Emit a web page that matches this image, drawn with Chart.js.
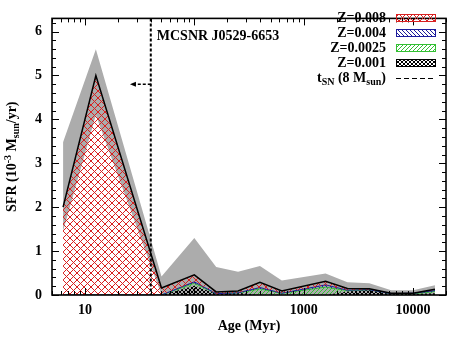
<!DOCTYPE html>
<html><head><meta charset="utf-8">
<script src="https://cdn.jsdelivr.net/npm/chart.js@4.4.1/dist/chart.umd.min.js"></script>
<style>html,body{margin:0;padding:0;background:#fff}#wrap{width:453px;height:340px;position:relative}canvas{display:block}</style>
</head><body><div id="wrap"><canvas id="c" width="453" height="340" style="width:453px;height:340px"></canvas></div>
<script>
// ---- data ----
const ages      = [6.31, 12.59, 50.12, 100, 158.5, 251.2, 398.1, 631, 1585, 2512, 3981, 6310, 10000, 15849];
const sfrZ008   = [2.00, 5.00, 0.16, 0.16, 0.04, 0.04, 0.12, 0.05, 0.08, 0.04, 0.02, 0.01, 0.00, 0.03];
const sfrZ004   = [0, 0, 0, 0.03, 0, 0, 0.03, 0, 0.05, 0.01, 0, 0, 0.01, 0.02];
const sfrZ0025  = [0, 0, 0, 0.06, 0, 0, 0.14, 0.04, 0.18, 0.02, 0, 0, 0, 0.04];
const sfrZ001   = [0, 0, 0, 0.21, 0.03, 0.05, 0, 0, 0, 0.08, 0.12, 0.03, 0.03, 0.04];
const sfrUpper  = [3.48, 5.60, 0.42, 1.30, 0.64, 0.53, 0.66, 0.33, 0.49, 0.29, 0.27, 0.11, 0.11, 0.22];
const sfrLower  = [1.45, 4.10, 0, 0, 0, 0, 0, 0, 0, 0, 0, 0, 0, 0];
const xTickLabels = [10, 100, 1000, 10000];
const yTickLabels = [0, 1, 2, 3, 4, 5, 6];
const tSN = 40;
const arrowTip = 25.8;
const arrowLevel = 4.8;
const snrName = 'MCSNR J0529-6653';
const legendLabels = ['Z=0.008', 'Z=0.004', 'Z=0.0025', 'Z=0.001'];

// ---- styling ----
const FONT = 'Liberation Serif, Times New Roman, serif';
const FS = 14;
Chart.defaults.font.family = FONT;
Chart.defaults.font.size = FS;
Chart.defaults.font.weight = 'bold';
Chart.defaults.color = '#000';

const canvas = document.getElementById('c');
const mainCtx = canvas.getContext('2d');
function makePattern(color, size, dirs, lw) {
  const c = document.createElement('canvas');
  c.width = size; c.height = size;
  const g = c.getContext('2d');
  g.strokeStyle = color; g.lineWidth = lw;
  g.beginPath();
  for (const k of [-size, 0, size]) {
    if (dirs.includes('\\')) { g.moveTo(k, 0); g.lineTo(k + size, size); }
    if (dirs.includes('/')) { g.moveTo(k, size); g.lineTo(k + size, 0); }
  }
  g.stroke();
  return mainCtx.createPattern(c, 'repeat');
}
const colRed = '#d82020', colBlue = '#1c1c9c', colGreen = '#33c033', colBlack = '#000000';
const patRed = makePattern(colRed, 7, '\\/', 1);
const patBlue = makePattern(colBlue, 4, '\\', 1);
const patGreen = makePattern(colGreen, 4, '/', 1);
const patBlack = makePattern(colBlack, 4, '\\/', 1);

// cumulative stacks
const c1 = sfrZ001.map(v => v);
const c2 = c1.map((v, i) => v + sfrZ0025[i]);
const c3 = c2.map((v, i) => v + sfrZ004[i]);
const c4 = c3.map((v, i) => v + sfrZ008[i]);
const pts = arr => arr.map((v, i) => ({x: ages[i], y: v}));

const base = {pointRadius: 0, tension: 0, borderWidth: 0};

// ---- custom drawing plugin ----
function drawRich(ctx, parts, x, y, align) {
  const fN = 'bold ' + FS + 'px ' + FONT, fS = 'bold 10px ' + FONT;
  let w = 0;
  for (const p of parts) { ctx.font = p.s === 'n' ? fN : fS; w += ctx.measureText(p.t).width; }
  let cx = align === 'right' ? x - w : (align === 'center' ? x - w / 2 : x);
  ctx.textBaseline = 'alphabetic'; ctx.textAlign = 'left';
  for (const p of parts) {
    ctx.font = p.s === 'n' ? fN : fS;
    const dy = p.s === 'sup' ? -5 : (p.s === 'sub' ? 3 : 0);
    ctx.fillText(p.t, cx, y + dy);
    cx += ctx.measureText(p.t).width;
  }
}

const decor = {
  id: 'decor',
  afterDatasetsDraw(chart) {
    const {ctx, chartArea: a, scales: {x, y}} = chart;
    ctx.save();
    const xs = x.getPixelForValue(tSN);
    ctx.strokeStyle = '#000'; ctx.lineWidth = 2; ctx.setLineDash([3, 2]);
    ctx.beginPath(); ctx.moveTo(xs, a.top); ctx.lineTo(xs, a.bottom); ctx.stroke();
    const xa = x.getPixelForValue(arrowTip), ya = y.getPixelForValue(arrowLevel);
    ctx.lineWidth = 1.3; ctx.setLineDash([3, 2]);
    ctx.beginPath(); ctx.moveTo(xs, ya); ctx.lineTo(xa + 4, ya); ctx.stroke();
    ctx.setLineDash([]);
    ctx.fillStyle = '#000';
    ctx.beginPath(); ctx.moveTo(xa, ya); ctx.lineTo(xa + 6, ya - 2.5); ctx.lineTo(xa + 6, ya + 2.5); ctx.closePath(); ctx.fill();
    ctx.font = 'bold ' + FS + 'px ' + FONT; ctx.textAlign = 'left'; ctx.textBaseline = 'middle';
    ctx.fillText(snrName, xs + 6, 36);
    ctx.lineWidth = 1.6; ctx.strokeStyle = '#000';
    ctx.strokeRect(a.left, a.top, a.right - a.left, a.bottom - a.top);
    ctx.lineWidth = 1;
    ctx.beginPath();
    for (let d = 1; d <= 10000; d *= 10) {
      for (let m = 1; m <= 9; m++) {
        const v = m * d;
        if (v < x.min || v > x.max) continue;
        const px = Math.round(x.getPixelForValue(v)) + 0.5;
        const L = m === 1 ? 7 : 4;
        ctx.moveTo(px, a.bottom); ctx.lineTo(px, a.bottom - L);
        ctx.moveTo(px, a.top); ctx.lineTo(px, a.top + L);
      }
    }
    for (let k = 0; k <= 31; k++) {
      const v = k * 0.2;
      if (v > y.max) break;
      const py = Math.round(y.getPixelForValue(v)) + 0.5;
      const L = k % 5 === 0 ? 7 : 4;
      ctx.moveTo(a.left, py); ctx.lineTo(a.left + L, py);
      ctx.moveTo(a.right, py); ctx.lineTo(a.right - L, py);
    }
    ctx.stroke();
    const pats = [[patRed, colRed], [patBlue, colBlue], [patGreen, colGreen], [patBlack, colBlack]];
    const rowY = [18, 33, 48, 63, 78];
    const tx = 386, bx0 = 396, bx1 = 436;
    ctx.font = 'bold ' + FS + 'px ' + FONT; ctx.textAlign = 'right'; ctx.textBaseline = 'middle';
    for (let i = 0; i < legendLabels.length; i++) {
      ctx.fillStyle = '#000';
      ctx.fillText(legendLabels[i], tx, rowY[i]);
      ctx.fillStyle = pats[i][0];
      ctx.fillRect(bx0, rowY[i] - 3.5, bx1 - bx0, 7);
      ctx.strokeStyle = pats[i][1]; ctx.lineWidth = 1;
      ctx.strokeRect(bx0 + 0.5, rowY[i] - 3.5, bx1 - bx0 - 1, 7);
    }
    ctx.fillStyle = '#000';
    drawRich(ctx, [{t: 't', s: 'n'}, {t: 'SN', s: 'sub'}, {t: ' (8 M', s: 'n'}, {t: 'sun', s: 'sub'}, {t: ')', s: 'n'}], tx, rowY[4] + 4, 'right');
    ctx.strokeStyle = '#000'; ctx.lineWidth = 1; ctx.setLineDash([5, 3]);
    ctx.beginPath(); ctx.moveTo(bx0, rowY[4] + 0.5); ctx.lineTo(bx1, rowY[4] + 0.5); ctx.stroke();
    ctx.setLineDash([]);
    ctx.translate(16, (a.top + a.bottom) / 2);
    ctx.rotate(-Math.PI / 2);
    drawRich(ctx, [{t: 'SFR (10', s: 'n'}, {t: '-3', s: 'sup'}, {t: ' M', s: 'n'}, {t: 'sun', s: 'sub'}, {t: '/yr)', s: 'n'}], 0, 0, 'center');
    ctx.restore();
  }
};

new Chart(canvas, {
  type: 'line',
  data: {
    datasets: [
      {...base, label: 'lower', data: pts(sfrLower), fill: false, order: 12},
      {...base, label: 'upper', data: pts(sfrUpper), fill: 0, backgroundColor: '#acacac', order: 11},
      {...base, label: 'Z=0.001', data: pts(c1), fill: 'origin', backgroundColor: patBlack, order: 5},
      {...base, label: 'Z=0.0025', data: pts(c2), fill: 2, backgroundColor: patGreen, borderColor: colGreen, borderWidth: 1, order: 4},
      {...base, label: 'Z=0.004', data: pts(c3), fill: 3, backgroundColor: patBlue, borderColor: colBlue, borderWidth: 1, order: 3},
      {...base, label: 'Z=0.008', data: pts(c4), fill: 4, backgroundColor: patRed, order: 2},
      {...base, label: 'total', data: pts(c4), fill: false, borderColor: '#000', borderWidth: 1.5, order: 0}
    ]
  },
  options: {
    responsive: false,
    animation: false,
    devicePixelRatio: 1,
    layout: {padding: {top: 7, right: 1, left: 0, bottom: 0}},
    plugins: {legend: {display: false}, tooltip: {enabled: false}},
    scales: {
      x: {
        type: 'logarithmic', min: 5, max: 20000,
        grid: {display: false, drawTicks: false}, border: {display: false},
        ticks: {autoSkip: false, maxRotation: 0, padding: 7,
          callback: v => { const l = xTickLabels.find(t => Math.abs(v - t) / t < 1e-6); return l ? String(l) : ''; }},
        title: {display: true, text: 'Age (Myr)', padding: {top: 0, bottom: 5}},
        afterFit: s => { s.height = 45; }
      },
      y: {
        min: 0, max: 6.3,
        grid: {display: false, drawTicks: false}, border: {display: false},
        ticks: {stepSize: 1, includeBounds: false, padding: 10,
          callback: v => yTickLabels.includes(v) ? String(v) : ''},
        afterFit: s => { s.width = 52; }
      }
    }
  },
  plugins: [decor]
});
</script></body></html>
